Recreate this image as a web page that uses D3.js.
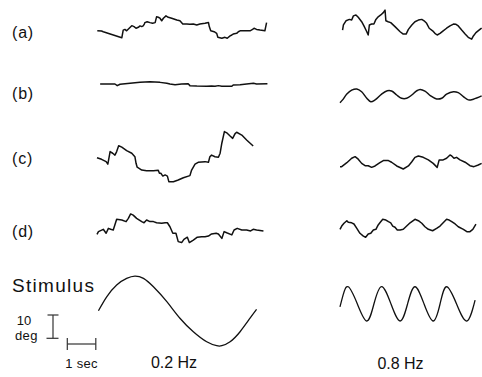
<!DOCTYPE html>
<html>
<head>
<meta charset="utf-8">
<script src="https://cdn.jsdelivr.net/npm/d3@7"></script>
<style>
  body { margin: 0; background: #fff; }
  text { font-family: "Liberation Sans", Arial, Helvetica, sans-serif; fill: #111; }
</style>
</head>
<body>
<script>
// rows and stimulus frequencies
const rows = ["(a)", "(b)", "(c)", "(d)", "Stimulus"];
const freqs = ["0.2 Hz", "0.8 Hz"];

// eye position traces, [time (s), position (deg)]
const a02 = [[0.01,-1.2],[0.16,-1.3],[0.22,-1.6],[0.87,-4.2],[0.92,-0.9],[0.98,-0.6],[1.04,-1.2],[1.13,-0.1],[1.22,1.0],[1.30,0.6],[1.37,-0.1],[1.45,0.3],[1.51,0.9],[1.57,0.6],[1.62,0.9],[1.66,1.7],[1.68,2.3],[1.76,2.7],[1.86,2.3],[1.95,2.0],[2.04,2.3],[2.09,4.8],[2.15,4.6],[2.21,4.2],[2.27,3.1],[2.33,4.2],[2.42,5.2],[2.50,4.6],[2.62,4.2],[2.80,3.4],[2.91,3.1],[3.01,1.7],[3.15,1.7],[3.26,1.6],[3.38,1.7],[3.50,1.3],[3.61,1.7],[3.79,2.0],[3.91,2.4],[3.94,0.6],[3.99,-1.2],[4.11,-1.6],[4.20,-2.3],[4.24,-4.0],[4.38,-4.4],[4.49,-4.0],[4.57,-4.4],[4.67,-3.4],[4.73,-3.0],[4.78,-2.6],[4.90,-2.3],[4.96,-1.6],[5.02,-1.2],[5.19,-1.2],[5.37,-1.2],[5.46,-0.6],[5.51,-0.1],[5.60,-0.6],[5.72,-0.9],[5.89,-1.2],[5.95,2.3]];
const a08 = [[0.09,-0.9],[0.12,1.3],[0.21,3.1],[0.33,3.7],[0.41,3.4],[0.47,5.2],[0.56,5.6],[0.64,4.6],[0.76,2.7],[0.84,0.9],[0.94,-1.6],[0.99,-3.0],[1.03,1.3],[1.11,1.7],[1.19,1.7],[1.26,3.7],[1.34,4.8],[1.43,5.6],[1.52,6.6],[1.58,7.7],[1.61,3.1],[1.69,2.7],[1.78,2.3],[1.93,0.6],[2.11,-1.6],[2.22,-2.6],[2.32,-2.6],[2.40,-0.6],[2.52,1.3],[2.63,2.7],[2.75,3.4],[2.87,3.7],[2.95,3.1],[3.04,2.0],[3.13,-0.1],[3.25,-1.2],[3.33,-2.3],[3.41,-3.0],[3.51,-2.3],[3.62,-1.2],[3.74,-0.1],[3.86,0.9],[3.98,1.7],[4.07,1.6],[4.15,0.9],[4.27,-0.9],[4.39,-2.6],[4.50,-4.0],[4.62,-4.8],[4.68,-3.4],[4.77,-2.0],[4.91,-0.6],[4.97,0.0]];
const b02 = [[0.11,0],[0.34,0],[0.63,0],[0.71,-0.7],[0.81,-0.1],[1.16,0.3],[1.51,0.7],[1.86,1.0],[2.21,0.7],[2.45,0.3],[2.56,0],[2.74,-0.3],[2.97,0],[3.20,0.1],[3.26,-0.7],[3.50,-0.9],[3.85,-1.0],[4.02,-0.9],[4.14,-1.0],[4.26,-0.7],[4.38,-1.0],[4.55,-1.0],[4.73,-1.0],[4.78,-0.4],[5.02,-0.3],[5.25,0],[5.49,0.3],[5.60,0],[5.98,0.1]];
const b08 = [[0,-3.3],[0.09,-2.1],[0.24,0.4],[0.41,2.1],[0.59,2.6],[0.76,1.4],[0.94,-1.4],[1.08,-2.9],[1.23,-2.1],[1.46,0.4],[1.66,1.8],[1.81,1.7],[1.99,0],[2.16,-1.4],[2.34,-1.4],[2.52,0],[2.69,1.8],[2.81,2.4],[2.98,1.7],[3.18,-0.4],[3.39,-1.7],[3.57,-1.4],[3.74,0.4],[3.98,1.4],[4.15,1.0],[4.33,-0.7],[4.50,-2.1],[4.68,-1.8],[4.97,-0.4]];
const c02 = [[0,1.0],[0.16,0.3],[0.32,-0.7],[0.38,-1.8],[0.46,3.6],[0.55,2.9],[0.63,2.1],[0.69,3.6],[0.76,6.1],[0.87,5.5],[1.04,4.0],[1.22,2.9],[1.33,1.4],[1.37,-1.4],[1.41,-3.1],[1.57,-4.3],[1.74,-4.6],[1.98,-4.6],[2.15,-4.4],[2.19,-5.7],[2.24,-5.7],[2.31,-6.9],[2.39,-6.4],[2.47,-6.9],[2.52,-9.3],[2.68,-9.3],[2.85,-8.6],[3.03,-7.6],[3.26,-6.7],[3.32,-4.3],[3.44,-1.8],[3.55,-1.0],[3.79,-0.7],[3.91,-1.0],[3.96,1.4],[4.02,2.1],[4.14,1.4],[4.26,1.2],[4.32,2.9],[4.38,7.2],[4.47,12.2],[4.57,11.5],[4.67,10.3],[4.76,9.3],[4.84,11.2],[4.90,11.9],[5.08,10.7],[5.25,8.6],[5.48,6.0]];
const c08 = [[0,-2.0],[0.06,-2.0],[0.24,-0.3],[0.41,1.6],[0.53,2.3],[0.64,1.2],[0.76,-0.6],[0.88,-1.6],[0.99,-1.6],[1.11,-2.3],[1.23,-1.7],[1.40,-0.3],[1.52,0.6],[1.70,0.6],[1.81,-0.1],[1.99,-1.7],[2.22,-3.0],[2.40,-1.7],[2.52,0.1],[2.63,2.0],[2.75,2.6],[2.92,2.0],[3.10,0.9],[3.27,-0.6],[3.41,-2.3],[3.48,0.9],[3.62,0.9],[3.74,1.6],[3.86,3.0],[3.92,2.6],[4.00,1.6],[4.09,2.0],[4.21,0.9],[4.39,-0.1],[4.56,-1.6],[4.70,-2.0],[4.85,-1.3],[4.97,-0.6]];
const d02 = [[0,-1.9],[0.05,-0.7],[0.22,0.3],[0.32,-1.4],[0.40,0.7],[0.48,0.3],[0.57,0],[0.69,4.6],[0.87,4.3],[1.02,3.6],[1.10,5.0],[1.18,6.9],[1.27,6.4],[1.39,5.0],[1.57,3.6],[1.65,3.1],[1.74,4.3],[1.86,3.6],[1.98,3.6],[2.09,3.1],[2.27,2.9],[2.39,3.1],[2.47,3.1],[2.56,1.4],[2.66,-1.4],[2.77,-1.4],[2.85,-5.0],[2.97,-5.4],[3.05,-4.0],[3.17,-3.1],[3.24,-5.4],[3.38,-4.3],[3.52,-3.1],[3.67,-2.9],[3.79,-2.9],[3.91,-2.6],[4.02,-1.7],[4.18,-1.4],[4.26,-1.7],[4.38,-3.6],[4.46,-0.7],[4.55,-1.2],[4.73,-2.1],[4.81,0],[4.92,0.7],[5.08,0],[5.25,0],[5.39,-0.4],[5.48,0.3],[5.60,0],[5.84,-0.4]];
const d08 = [[0,-1.0],[0.06,0.4],[0.14,1.6],[0.24,2.7],[0.29,2.0],[0.41,1.8],[0.49,1.3],[0.59,-0.6],[0.70,-2.7],[0.82,-3.9],[0.90,-4.4],[0.99,-3.0],[1.08,-2.7],[1.17,-1.3],[1.26,-1.0],[1.34,0.9],[1.40,1.8],[1.50,3.3],[1.61,3.0],[1.70,2.3],[1.78,1.8],[1.85,0.4],[1.93,-0.1],[2.01,-1.3],[2.11,-1.3],[2.22,-1.0],[2.34,0.4],[2.46,1.8],[2.63,3.3],[2.75,2.7],[2.87,1.6],[2.98,0.1],[3.10,-1.0],[3.25,-1.6],[3.39,-0.6],[3.51,0.4],[3.62,1.8],[3.74,3.3],[3.83,3.0],[3.92,2.3],[4.04,1.3],[4.15,0.1],[4.33,-1.0],[4.45,-2.0],[4.56,-2.0],[4.66,-1.0],[4.77,1.2]];
const stim02 = [[0.05,0.1],[0.34,6.1],[0.69,11.2],[1.04,14.0],[1.33,15.0],[1.63,14.0],[1.98,10.4],[2.45,4.0],[2.91,-3.1],[3.38,-8.9],[3.85,-13.2],[4.20,-14.9],[4.38,-14.9],[4.67,-13.2],[5.02,-8.9],[5.37,-3.1],[5.60,0.7]];
const stim08 = [[0,-1.2],[0.11,3.9],[0.29,7.4],[0.61,0],[0.94,-7.3],[1.19,0],[1.46,7.5],[1.79,0],[2.11,-7.3],[2.37,0],[2.63,7.4],[2.95,0],[3.27,-7.3],[3.51,0],[3.74,7.4],[4.09,0],[4.45,-7.3],[4.74,1.7]];

const width = 482, height = 377;

const svg = d3.select("body").append("svg")
  .attr("width", width)
  .attr("height", height);

// time scales, one per column (same px per second)
const xSlow = d3.scaleLinear().domain([0, 6]).range([97, 268]);
const xFast = d3.scaleLinear().domain([0, 5]).range([340, 482.5]);
// degrees -> vertical offset
const deg = d3.scaleLinear().domain([0, 10]).range([0, -23.3]);
// row baselines per column
const rowSlow = d3.scaleOrdinal().domain(rows).range([28, 84, 160, 230, 311]);
const rowFast = d3.scaleOrdinal().domain(rows).range([28, 95, 162, 227, 304]);

const columns = [
  { x: xSlow, row: rowSlow, traces: [a02, b02, c02, d02, stim02] },
  { x: xFast, row: rowFast, traces: [a08, b08, c08, d08, stim08] }
];

columns.forEach(col => {
  col.traces.forEach((data, i) => {
    const name = rows[i];
    let curve = d3.curveLinear;
    if (name === "Stimulus") curve = d3.curveNatural;
    else if (name === "(b)" && col.x === xFast) curve = d3.curveCatmullRom.alpha(0.5);
    const line = d3.line()
      .x(d => col.x(d[0]))
      .y(d => col.row(name) + deg(d[1]))
      .curve(curve);
    svg.append("path")
      .datum(data)
      .attr("d", line)
      .attr("fill", "none")
      .attr("stroke", "#111")
      .attr("stroke-width", name === "Stimulus" ? 1.3 : 1.5)
      .attr("stroke-linejoin", "round");
  });
});

// row labels
const labelY = { "(a)": 38, "(b)": 99, "(c)": 163.5, "(d)": 237 };
rows.slice(0, 4).forEach(r => {
  svg.append("text")
    .attr("x", 12)
    .attr("y", labelY[r])
    .style("font-size", "16px")
    .style("letter-spacing", "0.8px")
    .text(r);
});
svg.append("text")
  .attr("x", 12)
  .attr("y", 292)
  .style("font-size", "19px")
  .style("letter-spacing", "1.3px")
  .text(rows[4]);

// scale bars
const bars = svg.append("g").attr("stroke", "#333").attr("stroke-width", 1.2);
const vx = 53, vBase = 338.3;
bars.append("line").attr("x1", vx).attr("x2", vx).attr("y1", vBase).attr("y2", vBase + deg(10));
bars.append("line").attr("x1", vx - 5.5).attr("x2", vx + 5.5).attr("y1", vBase + deg(10)).attr("y2", vBase + deg(10));
bars.append("line").attr("x1", vx - 6.5).attr("x2", vx + 5.5).attr("y1", vBase).attr("y2", vBase);

const hx = 67.3, hy = 344;
const sec = xSlow(1) - xSlow(0);
bars.append("line").attr("x1", hx).attr("x2", hx + sec).attr("y1", hy).attr("y2", hy);
bars.append("line").attr("x1", hx).attr("x2", hx).attr("y1", hy - 6).attr("y2", hy + 6);
bars.append("line").attr("x1", hx + sec).attr("x2", hx + sec).attr("y1", hy - 6).attr("y2", hy + 6);

svg.append("text").attr("x", 24).attr("y", 325).attr("text-anchor", "middle")
  .style("font-size", "13px").text("10");
svg.append("text").attr("x", 26.5).attr("y", 339.5).attr("text-anchor", "middle")
  .style("font-size", "13px").style("letter-spacing", "0.5px").text("deg");
svg.append("text").attr("x", 81.5).attr("y", 368).attr("text-anchor", "middle")
  .style("font-size", "13px").style("letter-spacing", "0.3px").text("1 sec");

// frequency labels
svg.append("text").attr("x", 174).attr("y", 368).attr("text-anchor", "middle")
  .style("font-size", "16px").text(freqs[0]);
svg.append("text").attr("x", 400.5).attr("y", 369).attr("text-anchor", "middle")
  .style("font-size", "16px").text(freqs[1]);
</script>
</body>
</html>
